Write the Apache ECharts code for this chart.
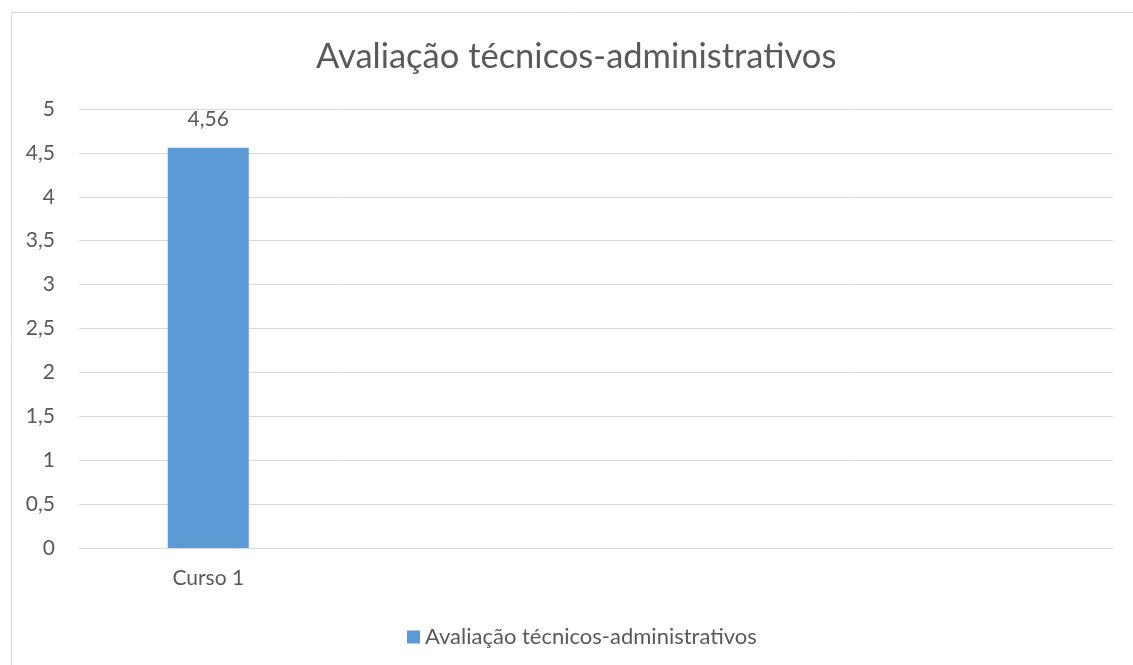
<!DOCTYPE html>
<html>
<head>
<meta charset="utf-8">
<script src="https://cdn.jsdelivr.net/npm/echarts@6/dist/echarts.min.js"></script>
<style>
  html, body { margin: 0; padding: 0; background: #fff; }
  #chart { width: 1133px; height: 665px; }
</style>
</head>
<body>
<div id="chart"></div>
<script>
// dados
const categorias = ['Curso 1', '', '', ''];
const valores = [4.56, null, null, null];
const nomeSerie = 'Avaliação técnicos-administrativos';
const titulo = 'Avaliação técnicos-administrativos';

const fonte = 'Lato, "Open Sans", sans-serif';
const corTexto = '#595959';

var myChart = echarts.init(document.getElementById('chart'));
var option = {
    animation: false,
    backgroundColor: '#fff',
    graphic: [{
        type: 'rect',
        left: 9, top: 10,
        shape: { width: 1200, height: 700 },
        style: { fill: 'none', stroke: '#d9d9d9', lineWidth: 1 },
        silent: true
    }],
    title: {
        text: titulo,
        left: 311,
        top: 34,
        textStyle: { fontFamily: fonte, fontSize: 34.5, fontWeight: 'normal', color: corTexto }
    },
    legend: {
        top: 621,
        left: 402,
        itemWidth: 13, itemHeight: 13,
        icon: 'rect',
        data: [nomeSerie],
        textStyle: { fontFamily: fonte, fontSize: 22, color: corTexto }
    },
    grid: { left: 79, right: 20, top: 109, bottom: 117, containLabel: false },
    xAxis: {
        type: 'category',
        data: categorias,
        axisLine: { lineStyle: { color: '#d9d9d9' } },
        axisTick: { show: false },
        axisLabel: { margin: 20, fontFamily: fonte, fontSize: 21, color: corTexto }
    },
    yAxis: {
        type: 'value',
        min: 0, max: 5, interval: 0.5,
        axisLine: { show: false },
        axisTick: { show: false },
        splitLine: { lineStyle: { color: '#d9d9d9', width: 1 } },
        axisLabel: {
            margin: 24, fontFamily: fonte, fontSize: 21, color: corTexto,
            formatter: function (v) { return String(v).replace('.', ','); }
        }
    },
    series: [{
        name: nomeSerie,
        type: 'bar',
        data: valores,
        barWidth: 81,
        itemStyle: { color: '#5b9bd5' },
        label: {
            show: true,
            position: 'top',
            distance: 18,
            fontFamily: fonte, fontSize: 21, color: corTexto,
            formatter: function (p) { return String(p.value).replace('.', ','); }
        }
    }]
};
option && myChart.setOption(option);
</script>
</body>
</html>
